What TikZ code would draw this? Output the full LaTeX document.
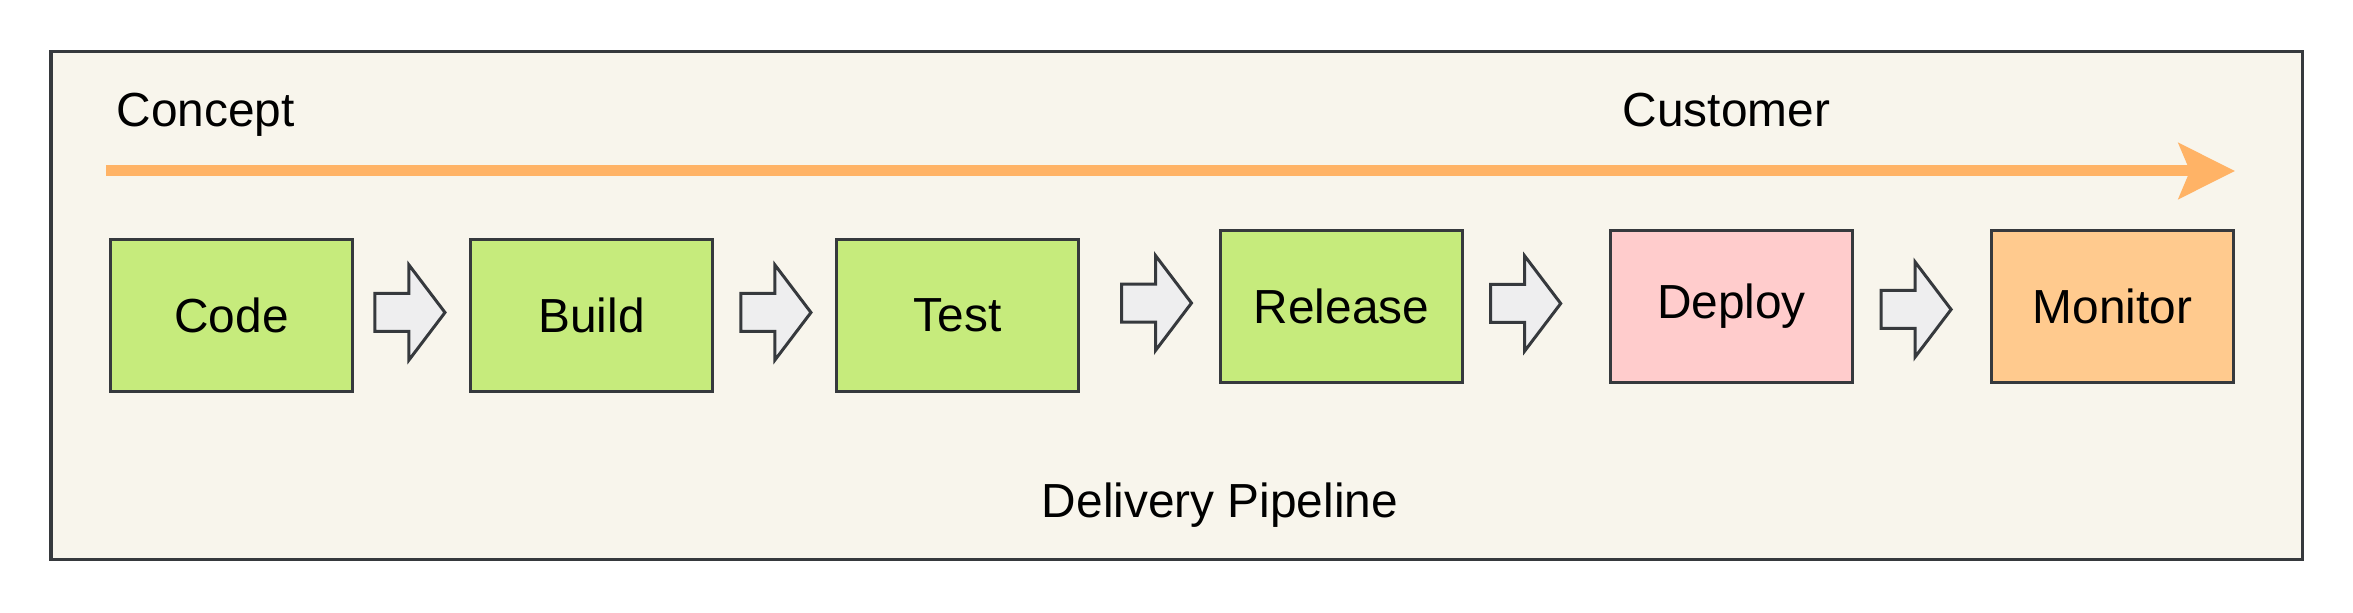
\documentclass[tikz,border=0pt]{standalone}
\usepackage{fontspec}
\setmainfont{Liberation Sans}
\usetikzlibrary{calc,positioning,arrows.meta}
\definecolor{frameFill}{HTML}{F8F5EC}
\definecolor{frameLine}{HTML}{36393D}
\definecolor{stageGreen}{HTML}{C6EB7C}
\definecolor{stagePink}{HTML}{FFCCCC}
\definecolor{stageOrange}{HTML}{FFCA8E}
\definecolor{flowOrange}{HTML}{FFB366}
\definecolor{stepGray}{HTML}{EEEEEF}
\tikzset{
  label font/.style={font=\fontsize{13.6}{16}\selectfont},
  stage/.style={draw=frameLine,line width=.03cm,minimum width=2.41cm,minimum height=1.51cm,inner sep=0pt,label font},
  blockarrow/.style={draw=frameLine,fill=stepGray,line width=.03cm,line join=miter},
  caption/.style={inner sep=0pt,label font},
  flow/.style={draw=flowOrange,line width=.11cm,-{Stealth[length=.56cm,width=.55cm,inset=.11cm]}}
}
\begin{document}
\begin{tikzpicture}[x=.01cm,y=-.01cm]
      \useasboundingbox(0,0)rectangle(2353,613);
      \draw[frameLine,fill=frameFill,line width=.03cm](51,52)rectangle(2302,560);

      \node[caption,anchor=base west](concept)at(116,127){Concept};
      \node[caption,anchor=base west](customer)at(1622,127){Customer};
      \node[caption,anchor=base](pipeline)at(1220,518){Delivery Pipeline};

      \coordinate(start)at(106,171);\coordinate(end)at(2235,171);
      \draw[flow](start)--(end);

      \foreach \n/\t/\x/\y/\c in{code/Code/231.5/315.5/stageGreen,build/Build/591.5/315.5/stageGreen,
        test/Test/957.5/315.5/stageGreen,release/Release/1341.5/306.5/stageGreen,
        deploy/Deploy/1731.5/306.5/stagePink,monitor/Monitor/2112.5/306.5/stageOrange}{
        \node[stage,fill=\c](\n)at(\x,\y){\t};
      }

      % block arrows between the stages
      \foreach \a/\b/\f/\dy in{code/build/.487/-3,build/test/.512/-3,test/release/.55/-7.5,
        release/deploy/.426/-3,deploy/monitor/.457/3}{
        \coordinate(M)at($(\a.east)!\f!(\b.west)+(0,\dy)$);
        \draw[blockarrow]($(M)+(-35,-19)$)--++(34,0)--++(0,-28.5)--++(36,47.5)
                --++(-36,47.5)--++(0,-28.5)--++(-34,0)--cycle;
      }
    \end{tikzpicture}
\end{document}
